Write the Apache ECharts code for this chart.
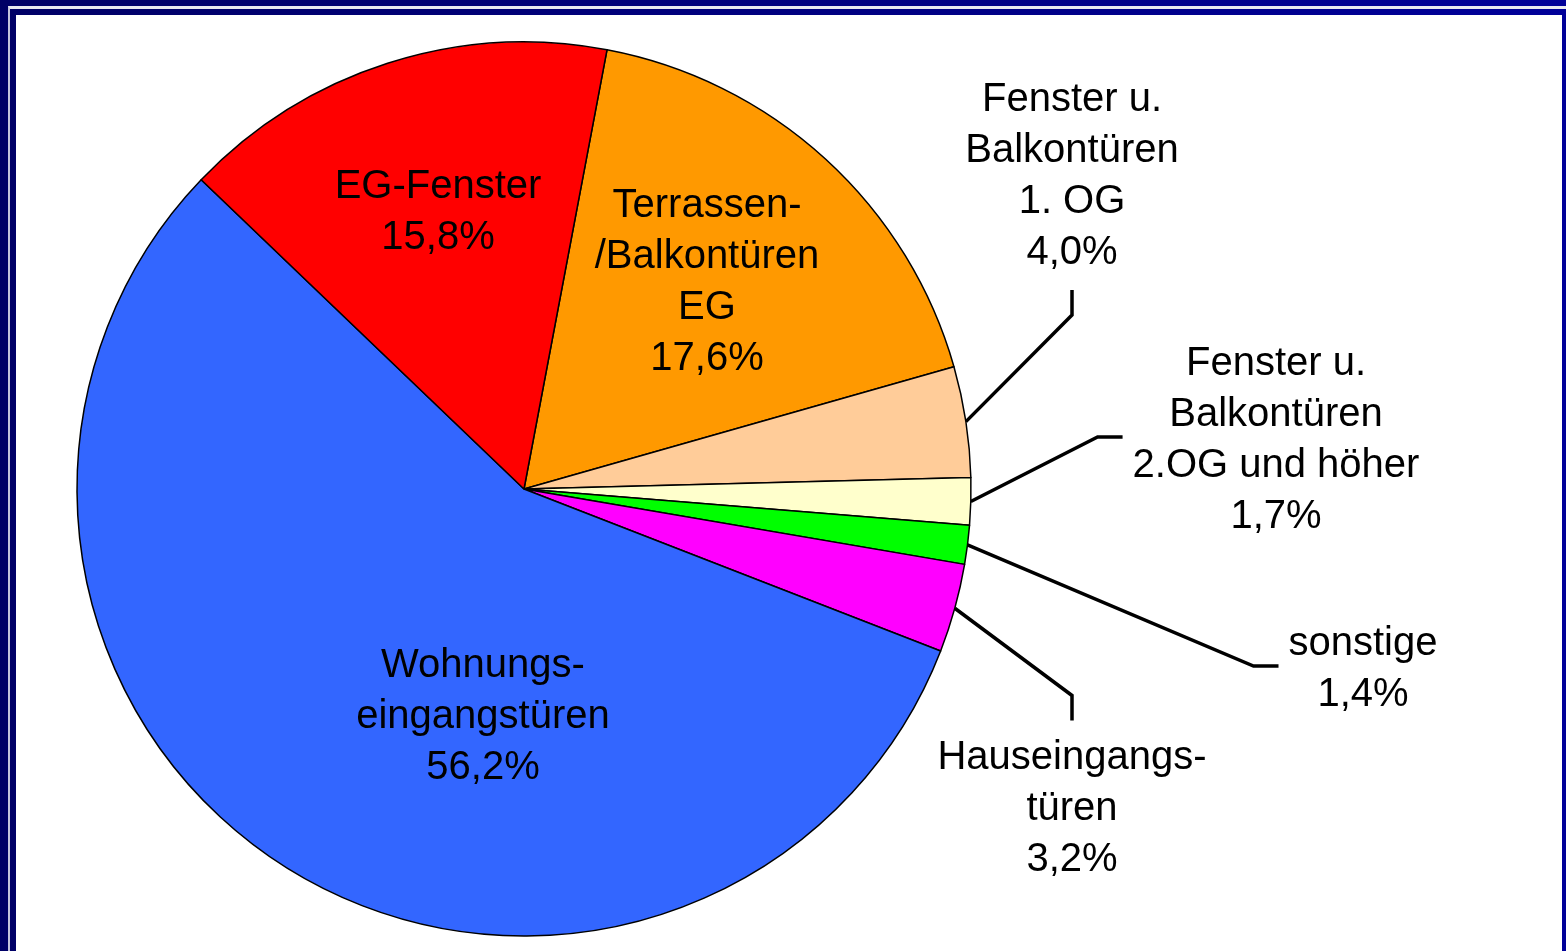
<!DOCTYPE html>
<html>
<head>
<meta charset="utf-8">
<title>Einbruchstellen</title>
<script src="https://cdn.jsdelivr.net/npm/echarts@6/dist/echarts.min.js"></script>
<style>
	html, body { margin: 0; padding: 0; width: 1566px; height: 951px; overflow: hidden; background: #fff; }
	.frame { position: absolute; left: 0; top: 0; width: 1566px; height: 951px;
		background: linear-gradient(to right, #000066, #000099); }
	.rim { position: absolute; left: 8px; top: 6px; right: 0; bottom: 0;
		border-left: 2px solid #c4c4dc; border-top: 3px solid #e8e8f0; }
	.paper { position: absolute; left: 16px; top: 15px; width: 1546px; height: 936px; background: #fff; }
	#chart { position: absolute; left: 0; top: 0; width: 1566px; height: 951px; }
</style>
</head>
<body>
<div class="frame"><div class="rim"></div></div>
<div class="paper"></div>
<div id="chart"></div>
<script>
	// Daten (im Uhrzeigersinn ab Terrassentüren)
	var names = [
		'Terrassen-\n/Balkontüren\nEG',
		'Fenster u.\nBalkontüren\n1. OG',
		'Fenster u.\nBalkontüren\n2.OG und höher',
		'sonstige',
		'Hauseingangs-\ntüren',
		'Wohnungs-\neingangstüren',
		'EG-Fenster'
	];
	var shares = [17.6, 4.0, 1.7, 1.4, 3.2, 56.2, 15.8];
	var colors = ['#FF9900', '#FFCC99', '#FFFFCC', '#00FF00', '#FF00FF', '#3366FF', '#FF0000'];

	// Beschriftungen: Mittelpunkt und Seite, an der die Linie ansetzt
	var labelPos = [
		{ x: 707, y: 282, side: 'none' },
		{ x: 1072, y: 176, side: 'bottom' },
		{ x: 1276, y: 440, side: 'left' },
		{ x: 1363, y: 669, side: 'left' },
		{ x: 1072, y: 809, side: 'top' },
		{ x: 483, y: 717, side: 'none' },
		{ x: 438, y: 212, side: 'none' }
	];

	var chart = echarts.init(document.getElementById('chart'));

	var lineStyle = { color: '#000', width: 3.5 };
	var pieData = [];
	for (var i = 0; i < names.length; i++) {
		var inside = labelPos[i].side == 'none';
		pieData.push({
			name: names[i],
			value: shares[i],
			itemStyle: { color: colors[i] },
			label: { position: inside ? 'inside' : 'outside' },
			labelLine: { show: !inside, lineStyle: lineStyle }
		});
	}

	var option = {
		animation: false,
		series: [{
			type: 'pie',
			center: [524, 489],
			radius: 447,
			startAngle: 79.3,
			clockwise: true,
			avoidLabelOverlap: false,
			itemStyle: { borderColor: '#000', borderWidth: 1.5 },
			emphasis: { disabled: true },
			label: {
				color: '#000',
				fontFamily: 'Liberation Sans, Arial, sans-serif',
				fontSize: 40,
				lineHeight: 51,
				formatter: function (p) {
					return p.name + '\n' + p.value.toFixed(1).replace('.', ',') + '%';
				}
			},
			labelLine: {
				length: 40,
				length2: 25,
				smooth: false,
				lineStyle: lineStyle
			},
			labelLayout: function (params) {
				var pos = labelPos[params.dataIndex];
				var res = { x: pos.x, y: pos.y, align: 'center', verticalAlign: 'middle' };
				if (pos.side != 'none' && params.labelLinePoints) {
					var start = params.labelLinePoints[0];
					var w = params.labelRect.width, h = params.labelRect.height;
					var gap = 12, seg = 25, end, elbow;
					if (pos.side == 'bottom') {
						end = [pos.x, pos.y + h / 2 + gap];
						elbow = [pos.x, end[1] + seg];
					} else if (pos.side == 'top') {
						end = [pos.x, pos.y - h / 2 - gap];
						elbow = [pos.x, end[1] - seg];
					} else {
						end = [pos.x - w / 2 - gap + 2, pos.y - 3];
						elbow = [end[0] - seg, end[1]];
					}
					res.labelLinePoints = [start, elbow, end];
				}
				return res;
			},
			data: pieData
		}]
	};
	chart.setOption(option);
</script>
</body>
</html>
